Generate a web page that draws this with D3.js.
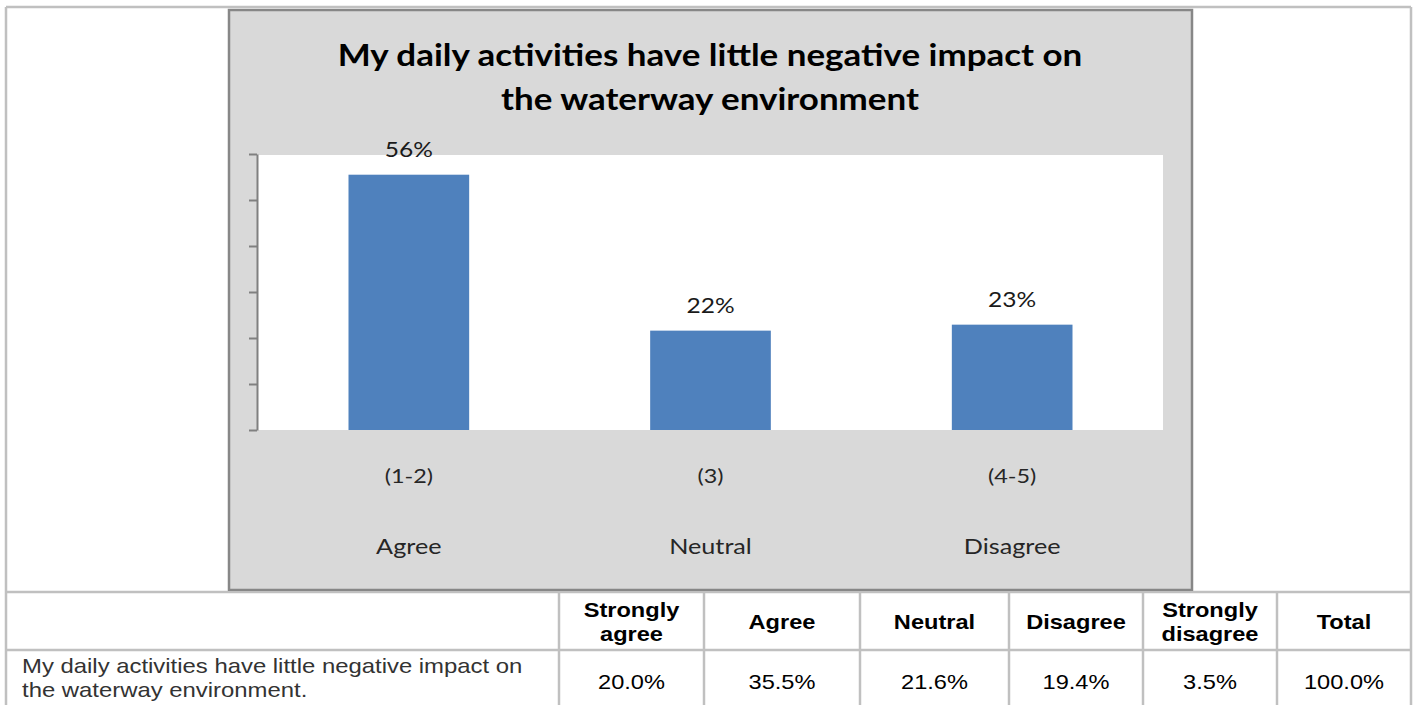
<!DOCTYPE html>
<html>
<head>
<meta charset="utf-8">
<script src="https://cdn.jsdelivr.net/npm/d3@7"></script>
<style>
  body { margin: 0; background: #fff; }
  svg { display: block; }
</style>
</head>
<body>
<svg id="page" width="1416" height="705"></svg>
<script>
// chart data
const categories = ["(1-2)", "(3)", "(4-5)"];
const categoryNames = ["Agree", "Neutral", "Disagree"];
const values = [55.5, 21.6, 22.9];
const yTicks = [0, 10, 20, 30, 40, 50, 60];
const titleLines = ["My daily activities have little negative impact on", "the waterway environment"];

// table data
const tableHeaders = [["Strongly", "agree"], ["Agree"], ["Neutral"], ["Disagree"], ["Strongly", "disagree"], ["Total"]];
const rowLabel = ["My daily activities have little negative impact on", "the waterway environment."];
const rowValues = [20.0, 35.5, 21.6, 19.4, 3.5, 100.0];

const svg = d3.select("#page");
const gridColor = "#c0c0c0";
const chartFont = "Lato, 'Open Sans', sans-serif";
const tableFont = "'Liberation Sans', Arial, sans-serif";
const kx = 1.17;   // the picture is a bit wider than its fonts

// put text at (cx, cy) stretched horizontally by k
function placeText(sel, cx, cy, k) {
  sel.attr("transform", `scale(${k},1)`)
    .attr("x", cx / k)
    .attr("y", cy);
  return sel;
}

// ---- chart box ----
const box = {left: 229, top: 10, right: 1192, bottom: 590};
svg.append("rect")
  .attr("x", box.left).attr("y", box.top)
  .attr("width", box.right - box.left).attr("height", box.bottom - box.top)
  .attr("fill", "#d9d9d9")
  .attr("stroke", "#878787")
  .attr("stroke-width", 2.5);

const plot = {left: 258, right: 1163, top: 154, bottom: 430};

svg.append("rect")
  .attr("x", plot.left).attr("y", plot.top + 1)
  .attr("width", plot.right - plot.left).attr("height", plot.bottom - plot.top - 1)
  .attr("fill", "#fff");

const x = d3.scaleBand()
  .domain(categories)
  .range([plot.left, plot.right])
  .paddingInner(0.6)
  .paddingOuter(0.3);

const y = d3.scaleLinear()
  .domain([0, 60])
  .range([plot.bottom, plot.top]);

// title
svg.append("g").selectAll("text")
  .data(titleLines)
  .join("text")
  .attr("text-anchor", "middle")
  .attr("font-family", chartFont)
  .attr("font-weight", "bold")
  .attr("font-size", 30)
  .attr("fill", "#000")
  .text(d => d)
  .each(function(d, i) { placeText(d3.select(this), 710, 66 + i * 44, 1.165); });

// bars
svg.append("g").selectAll("rect")
  .data(values)
  .join("rect")
  .attr("x", (d, i) => x(categories[i]))
  .attr("width", x.bandwidth())
  .attr("y", d => y(d))
  .attr("height", d => y(0) - y(d))
  .attr("fill", "#4f81bd");

// value labels
svg.append("g").selectAll("text")
  .data(values)
  .join("text")
  .attr("text-anchor", "middle")
  .attr("font-family", chartFont)
  .attr("font-size", 21)
  .attr("fill", "#1a1a1a")
  .text(d => Math.round(d) + "%")
  .each(function(d, i) {
    placeText(d3.select(this), x(categories[i]) + x.bandwidth() / 2, y(d) - 18, kx);
  });

// y axis, ticks only
const yAxis = svg.append("g")
  .attr("transform", `translate(${plot.left - 1},0)`)
  .call(d3.axisLeft(y).tickValues(yTicks).tickSize(8).tickSizeOuter(0).tickFormat(""));
yAxis.select(".domain").attr("stroke", "#808080").attr("stroke-width", 2);
yAxis.selectAll(".tick line").attr("stroke", "#808080").attr("stroke-width", 2);

// category labels, two lines each
const catG = svg.append("g");
catG.selectAll("text.code")
  .data(categories)
  .join("text")
  .attr("class", "code")
  .attr("text-anchor", "middle")
  .attr("font-family", chartFont)
  .attr("font-size", 20)
  .attr("fill", "#262626")
  .text(d => d)
  .each(function(d) { placeText(d3.select(this), x(d) + x.bandwidth() / 2, 483, kx); });
catG.selectAll("text.name")
  .data(categoryNames)
  .join("text")
  .attr("class", "name")
  .attr("text-anchor", "middle")
  .attr("font-family", chartFont)
  .attr("font-size", 21)
  .attr("fill", "#262626")
  .text(d => d)
  .each(function(d, i) { placeText(d3.select(this), x(categories[i]) + x.bandwidth() / 2, 554, 1.2); });

// ---- table grid ----
const colEdges = [6, 559, 704, 860, 1009, 1143, 1277, 1411];
const rowEdges = [7, 592, 650, 720];
const grid = svg.append("g").attr("stroke", gridColor).attr("stroke-width", 2.5);

// outer frame and row lines
grid.selectAll("line.row")
  .data(rowEdges.slice(0, 3))
  .join("line")
  .attr("class", "row")
  .attr("x1", colEdges[0]).attr("x2", colEdges[colEdges.length - 1])
  .attr("y1", d => d).attr("y2", d => d);
grid.selectAll("line.outer")
  .data([colEdges[0], colEdges[colEdges.length - 1]])
  .join("line")
  .attr("class", "outer")
  .attr("x1", d => d).attr("x2", d => d)
  .attr("y1", rowEdges[0]).attr("y2", rowEdges[3]);
grid.selectAll("line.col")
  .data(colEdges.slice(1, -1))
  .join("line")
  .attr("class", "col")
  .attr("x1", d => d).attr("x2", d => d)
  .attr("y1", rowEdges[1]).attr("y2", rowEdges[3]);

// redraw chart bottom border over the grid line
svg.append("line")
  .attr("x1", box.left - 1).attr("x2", box.right + 1)
  .attr("y1", box.bottom).attr("y2", box.bottom)
  .attr("stroke", "#878787").attr("stroke-width", 2);

const colCenter = i => (colEdges[i + 1] + colEdges[i + 2]) / 2;

// header row
const headG = svg.append("g");
tableHeaders.forEach((lines, i) => {
  const top = lines.length === 1 ? 629 : 617;
  lines.forEach((t, j) => {
    headG.append("text")
      .attr("text-anchor", "middle")
      .attr("font-family", tableFont)
      .attr("font-weight", "bold")
      .attr("font-size", 20)
      .attr("fill", "#000")
      .text(t)
      .call(s => placeText(s, colCenter(i), top + j * 24, 1.18));
  });
});

// data row
svg.append("g").selectAll("text")
  .data(rowValues)
  .join("text")
  .attr("text-anchor", "middle")
  .attr("font-family", tableFont)
  .attr("font-size", 20)
  .attr("fill", "#000")
  .text(d => d.toFixed(1) + "%")
  .each(function(d, i) { placeText(d3.select(this), colCenter(i), 689, 1.18); });

svg.append("g").selectAll("text")
  .data(rowLabel)
  .join("text")
  .attr("font-family", tableFont)
  .attr("font-size", 20)
  .attr("fill", "#333")
  .text(d => d)
  .each(function(d, i) { placeText(d3.select(this), 22, 673 + i * 24, 1.195); });
</script>
</body>
</html>
